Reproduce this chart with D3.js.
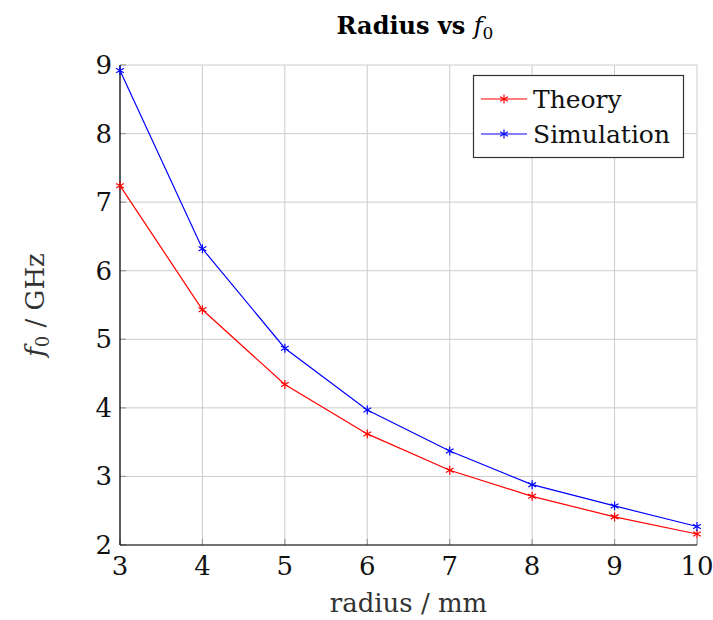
<!DOCTYPE html>
<html>
<head>
<meta charset="utf-8">
<script src="https://d3js.org/d3.v7.min.js"></script>
<style>
  body { margin: 0; background: #fff; }
  svg { font-family: "DejaVu Serif", "Liberation Serif", serif; }
</style>
</head>
<body>
<div id="chart"></div>
<script>
var radius = [3, 4, 5, 6, 7, 8, 9, 10];
var theory = [7.24, 5.43, 4.34, 3.62, 3.09, 2.71, 2.41, 2.16];
var simulation = [8.92, 6.32, 4.87, 3.97, 3.37, 2.88, 2.57, 2.27];
var xTicks = [3, 4, 5, 6, 7, 8, 9, 10];
var yTicks = [2, 3, 4, 5, 6, 7, 8, 9];

var width = 713, height = 620;
var plotLeft = 120, plotRight = 697, plotTop = 65, plotBottom = 545;

var svg = d3.select("#chart").append("svg")
    .attr("width", width)
    .attr("height", height);

var x = d3.scaleLinear().domain([3, 10]).range([plotLeft, plotRight]);
var y = d3.scaleLinear().domain([2, 9]).range([plotBottom, plotTop]);

// grid
svg.append("g").selectAll("line").data(xTicks).enter().append("line")
    .attr("x1", function(d) { return x(d); })
    .attr("x2", function(d) { return x(d); })
    .attr("y1", plotTop).attr("y2", plotBottom)
    .attr("stroke", "#cccccc").attr("stroke-width", 1);
svg.append("g").selectAll("line").data(yTicks).enter().append("line")
    .attr("x1", plotLeft).attr("x2", plotRight)
    .attr("y1", function(d) { return y(d); })
    .attr("y2", function(d) { return y(d); })
    .attr("stroke", "#cccccc").attr("stroke-width", 1);

// small inner ticks
svg.append("g").selectAll("line").data(xTicks).enter().append("line")
    .attr("x1", function(d) { return x(d); })
    .attr("x2", function(d) { return x(d); })
    .attr("y1", plotBottom).attr("y2", plotBottom - 6)
    .attr("stroke", "#999").attr("stroke-width", 1.2);
svg.append("g").selectAll("line").data(yTicks).enter().append("line")
    .attr("x1", plotLeft).attr("x2", plotLeft + 6)
    .attr("y1", function(d) { return y(d); })
    .attr("y2", function(d) { return y(d); })
    .attr("stroke", "#999").attr("stroke-width", 1.2);

// axis lines
svg.append("line").attr("x1", plotLeft).attr("x2", plotLeft).attr("y1", plotTop).attr("y2", plotBottom)
    .attr("stroke", "#000").attr("stroke-width", 1.2);
svg.append("line").attr("x1", plotLeft).attr("x2", plotRight).attr("y1", plotBottom).attr("y2", plotBottom)
    .attr("stroke", "#000").attr("stroke-width", 1.2);

// tick labels
svg.append("g").selectAll("text").data(xTicks).enter().append("text")
    .attr("x", function(d) { return x(d); })
    .attr("y", plotBottom + 30)
    .attr("text-anchor", "middle")
    .attr("font-size", 26)
    .attr("fill", "#111")
    .text(function(d) { return d; });
svg.append("g").selectAll("text").data(yTicks).enter().append("text")
    .attr("x", plotLeft - 8)
    .attr("y", function(d) { return y(d) + 9; })
    .attr("text-anchor", "end")
    .attr("font-size", 26)
    .attr("fill", "#111")
    .text(function(d) { return d; });

// axis labels
svg.append("text")
    .attr("x", (plotLeft + plotRight) / 2)
    .attr("y", 612)
    .attr("text-anchor", "middle")
    .attr("font-size", 26)
    .attr("fill", "#333")
    .text("radius / mm");

var yl = svg.append("text")
    .attr("transform", "translate(44," + ((plotTop + plotBottom) / 2) + ") rotate(-90)")
    .attr("text-anchor", "middle")
    .attr("font-size", 26)
    .attr("fill", "#333");
yl.append("tspan").attr("font-style", "italic").text("f");
yl.append("tspan").attr("font-size", 18).attr("dy", 5).text("0");
yl.append("tspan").attr("dy", -5).text(" / GHz");

// title
var title = svg.append("text")
    .attr("x", 415)
    .attr("y", 34)
    .attr("text-anchor", "middle")
    .attr("font-size", 24)
    .attr("fill", "#000");
title.append("tspan").attr("font-weight", "bold").text("Radius vs ");
title.append("tspan").attr("font-style", "italic").text("f");
title.append("tspan").attr("font-size", 17).attr("dy", 5).text("0");

// series
var series = [
    {name: "Theory", values: theory, color: "#ff0000"},
    {name: "Simulation", values: simulation, color: "#0000ff"}
];

var line = d3.line()
    .x(function(d) { return x(d[0]); })
    .y(function(d) { return y(d[1]); });

function star(g, cx, cy, color) {
    var r = 4.5;
    [90, 30, -30].forEach(function(a) {
        var rad = a * Math.PI / 180;
        g.append("line")
            .attr("x1", cx - r * Math.cos(rad)).attr("y1", cy - r * Math.sin(rad))
            .attr("x2", cx + r * Math.cos(rad)).attr("y2", cy + r * Math.sin(rad))
            .attr("stroke", color).attr("stroke-width", 1.2);
    });
}

series.forEach(function(s) {
    var pts = radius.map(function(r, i) { return [r, s.values[i]]; });
    svg.append("path")
        .datum(pts)
        .attr("d", line)
        .attr("fill", "none")
        .attr("stroke", s.color)
        .attr("stroke-width", 1.2);
    var g = svg.append("g");
    pts.forEach(function(p) { star(g, x(p[0]), y(p[1]), s.color); });
});

// legend
var lg = svg.append("g");
lg.append("rect")
    .attr("x", 473.5).attr("y", 75.5)
    .attr("width", 210).attr("height", 82)
    .attr("fill", "#fff")
    .attr("stroke", "#333").attr("stroke-width", 1.2);
series.forEach(function(s, i) {
    var cy = 99 + i * 35;
    lg.append("line")
        .attr("x1", 481).attr("x2", 527)
        .attr("y1", cy).attr("y2", cy)
        .attr("stroke", s.color).attr("stroke-width", 1.2);
    star(lg, 504, cy, s.color);
    lg.append("text")
        .attr("x", 533)
        .attr("y", cy + 9)
        .attr("font-size", 25)
        .attr("fill", "#111")
        .text(s.name);
});
</script>
</body>
</html>
